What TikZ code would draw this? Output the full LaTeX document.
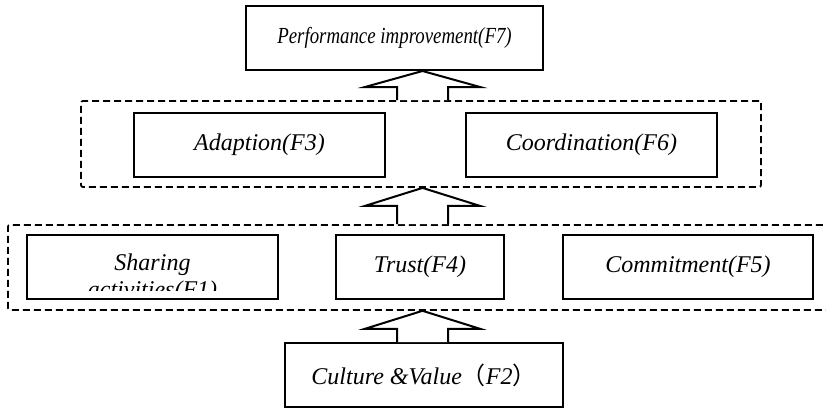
\documentclass[tikz,border=0pt]{standalone}
\usepackage{fontspec}
\setmainfont{Liberation Serif}
\newfontfamily\cjk{Noto Sans CJK SC}
\usetikzlibrary{calc}
\begin{document}
\begin{tikzpicture}[x=1pt,y=-1pt,
  factor/.style={draw,line width=2pt,minimum width=#1,minimum height=64pt,inner sep=0pt,
    font=\fontsize{24}{28}\selectfont\itshape},
  label/.style={font=\fontsize{24}{28}\selectfont\itshape,inner sep=0pt,anchor=base},
  group/.style={draw,line width=1.8pt,dash pattern=on 7pt off 4pt,rounded corners=2pt,inner sep=0pt},
  blockarrow/.style={draw,line width=2pt,fill=white,line join=miter}]
\useasboundingbox (0,0) rectangle (826,410);

% dashed groups
\node[group,minimum width=680pt,minimum height=86pt] (upper) at (421,144) {};
\node[group,minimum width=850pt,minimum height=85pt,anchor=north west] (lower) at (7,224) {};

% factors
\node[factor=297pt,font=\fontsize{23}{27}\selectfont\itshape] (f7) at (394.5,38)
  {\scalebox{0.82}[1]{Performance improvement(F7)}};
\node[factor=251pt] (f3) at (259.5,145) {Adaption(F3)};
\node[factor=251pt] (f6) at (591.5,145) {Coordination(F6)};
\node[factor=251pt] (f1) at (152.5,267) {};
\node[factor=168pt] (f4) at (420,267) {Trust(F4)};
\node[factor=250pt] (f5) at (688,267) {Commitment(F5)};
\node[factor=278pt] (f2) at (424,375) {Culture \&Value{\cjk\upshape （}F2{\cjk\upshape ）}};

% two-line label of F1, cut off by the box
\begin{scope}
  \clip ($(f1.north west)+(2,2)$) rectangle ($(f1.south east)+(-2,-10)$);
  \node[label] (f1a) at ($(f1.north)+(0,36)$) {Sharing};
  \node[label] (f1b) at ($(f1.north)+(0,63)$) {activities(F1)};
\end{scope}

% block arrows
\coordinate (axis) at (422.5,0);
\newcommand\blockarrow[3]{%
  \path ($(#1 -| axis)$) coordinate (b) ($(#2 -| axis)$) coordinate (t);
  \draw[blockarrow] ($(b)+(-25.5,0)$) -- ($(t)+(-25.5,#3)$) -- ($(t)+(-57.5,#3)$) -- (t)
    -- ($(t)+(57.5,#3)$) -- ($(t)+(25.5,#3)$) -- ($(b)+(25.5,0)$);}
\blockarrow{f2.north}{lower.south}{18}
\blockarrow{lower.north}{upper.south}{18}
\blockarrow{upper.north}{f7.south}{16}
\end{tikzpicture}
\end{document}
